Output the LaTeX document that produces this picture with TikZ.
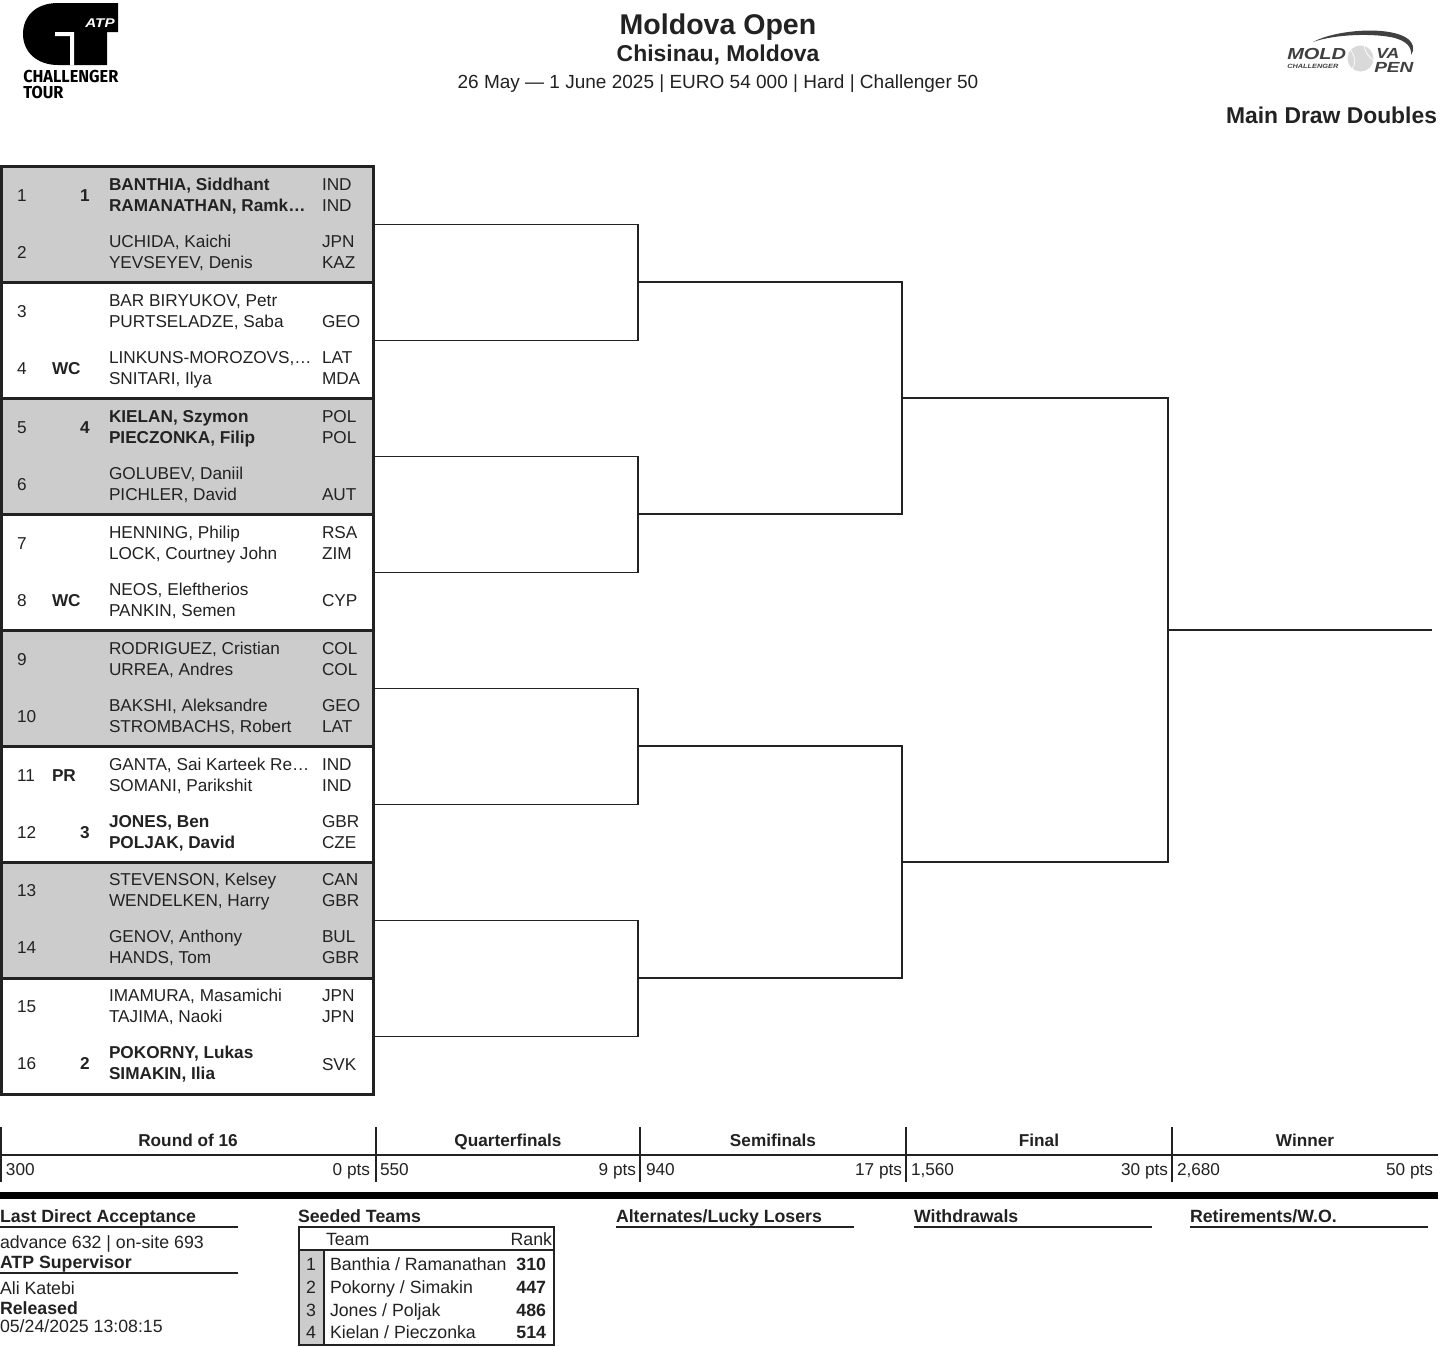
\documentclass[tikz,border=0pt]{standalone}
\usepackage{fontspec}
\setmainfont{Liberation Sans}
\newfontfamily\logofont{Fira Sans}
\definecolor{ink}{HTML}{222222}
\definecolor{band}{HTML}{CCCCCC}
\tikzset{
  txt/.style={inner sep=0pt,outer sep=0pt,anchor=base west,text=ink,font=\fontsize{12.9}{16}\selectfont},
  txtb/.style={txt,font=\fontsize{12.9}{16}\selectfont\bfseries},
  rtxt/.style={txt,anchor=base east},
  ctxtb/.style={txtb,anchor=base},
  ftxt/.style={txt,font=\fontsize{13.3}{16}\selectfont},
  ftxtb/.style={txt,font=\fontsize{13.3}{16}\selectfont\bfseries},
  frtxt/.style={ftxt,anchor=base east},
  frtxtb/.style={ftxtb,anchor=base east},
  line/.style={draw=ink,line width=1.1pt},
  rule/.style={draw=ink,line width=0.9pt},
  tick/.style={draw=ink,line width=1pt},
  blockw/.style={draw=ink,line width=1.7pt,inner sep=0pt,outer sep=0pt,minimum width=279pt,minimum height=87pt,fill=white},
  blockg/.style={blockw,fill=band},
}
\newcommand\entry[9]{%
  \node[txt] (idx#1) at (17,#2+11) {#1};
  \if\relax\detokenize{#4}\relax\else \node[txtb] (seed#1) at (#3,#2+11) {#4};\fi
  \node[txt,font=\fontsize{12.9}{16}\selectfont#9] (na#1) at (109,#2) {#5};
  \node[txt,font=\fontsize{12.9}{16}\selectfont#9] (nb#1) at (109,#2+21) {#7};
  \if\relax\detokenize{#6}\relax\else \node[txt] (ca#1) at (322,#2) {#6};\fi
  \if\relax\detokenize{#8}\relax\else \node[txt] (cb#1) at (322,#2+21) {#8};\fi
}
\begin{document}
\begin{tikzpicture}[x=0.75pt,y=-0.75pt]
\useasboundingbox (0,0) rectangle (1440,1347);
\fill[white] (0,0) rectangle (1440,1347);

% Challenger logo
\fill[black] (118,3) -- (58,3) .. controls (35,3) and (23,17) .. (23,34) .. controls (23,52) and (37,65) .. (58,65) -- (107,65) -- (107,32) -- (118,32) -- cycle;
\fill[white] (55,32) -- (74,32) -- (74,65) -- (70,65) -- (70,36) -- (55,36) -- cycle;
\node[inner sep=0pt,anchor=base,text=white,font=\fontsize{9.5}{10}\selectfont\bfseries\itshape] (atp) at (100,27) {\scalebox{1.2}[1]{ATP}};
\node[inner sep=0pt,anchor=base west,text=black,font=\logofont\fontsize{13}{13}\selectfont\bfseries] (cha) at (23,82) {\scalebox{0.94}[1]{CHALLENGER}};
\node[inner sep=0pt,anchor=base west,text=black,font=\logofont\fontsize{13}{13}\selectfont\bfseries] (tou) at (23,98) {\scalebox{0.94}[1]{TOUR}};

% Moldova logo
\fill[black!75] (1313,42) .. controls (1335,30) and (1385,26) .. (1405,37) .. controls (1414,42) and (1415,50) .. (1411,55) .. controls (1412,46) and (1405,41) .. (1395,38) .. controls (1375,33) and (1335,34) .. (1313,42) -- cycle;
\fill[black!15] (1360.5,58.5) circle[radius=13];
\draw[white,line width=0.5pt] (1350,49) .. controls (1356,58) and (1356,64) .. (1352,69);
\draw[white,line width=0.5pt] (1364,46) .. controls (1366,54) and (1370,58) .. (1373,60);
\node[inner sep=0pt,anchor=base west,text=black!75,font=\fontsize{12}{12}\selectfont\bfseries\itshape] (lm) at (1287,59) {\scalebox{1.25}[1]{MOLD}};
\node[inner sep=0pt,anchor=base west,text=black!75,font=\fontsize{4.6}{5}\selectfont\bfseries\itshape] (lc) at (1287,68) {\scalebox{1.2}[1]{CHALLENGER}};
\node[inner sep=0pt,anchor=base west,text=black!75,font=\fontsize{11}{11}\selectfont\bfseries\itshape] (lv) at (1376,58) {\scalebox{1.2}[1]{VA}};
\node[inner sep=0pt,anchor=base west,text=black!75,font=\fontsize{11}{11}\selectfont\bfseries\itshape] (lp) at (1374,72.5) {\scalebox{1.3}[1]{PEN}};

% Titles
\node[txtb,anchor=base,font=\fontsize{21.4}{24}\selectfont\bfseries] (t1) at (718,34) {Moldova Open};
\node[txtb,anchor=base,font=\fontsize{17.2}{20}\selectfont\bfseries] (t2) at (718,61) {Chisinau, Moldova};
\node[txt,anchor=base,font=\fontsize{14.25}{18}\selectfont] (t3) at (718,88) {26 May — 1 June 2025 | EURO 54 000 | Hard | Challenger 50};
\node[txtb,anchor=base east,font=\fontsize{17.15}{20}\selectfont\bfseries] (t4) at (1437,123.5) {Main Draw Doubles};

% Draw blocks
\node[blockg] (b1) at (187.5,224.5) {};
\node[blockw] (b2) at (187.5,340.5) {};
\node[blockg] (b3) at (187.5,456.5) {};
\node[blockw] (b4) at (187.5,572.5) {};
\node[blockg] (b5) at (187.5,688.5) {};
\node[blockw] (b6) at (187.5,804.5) {};
\node[blockg] (b7) at (187.5,920.5) {};
\node[blockw] (b8) at (187.5,1036.5) {};

\entry{1}{190}{80}{1}{BANTHIA, Siddhant}{IND}{RAMANATHAN, Ramk…}{IND}{\bfseries}
\entry{2}{247}{}{}{UCHIDA, Kaichi}{JPN}{YEVSEYEV, Denis}{KAZ}{}
\entry{3}{306}{}{}{BAR BIRYUKOV, Petr}{}{PURTSELADZE, Saba}{GEO}{}
\entry{4}{363}{52}{WC}{LINKUNS-MOROZOVS,…}{LAT}{SNITARI, Ilya}{MDA}{}
\entry{5}{422}{80}{4}{KIELAN, Szymon}{POL}{PIECZONKA, Filip}{POL}{\bfseries}
\entry{6}{479}{}{}{GOLUBEV, Daniil}{}{PICHLER, David}{AUT}{}
\entry{7}{538}{}{}{HENNING, Philip}{RSA}{LOCK, Courtney John}{ZIM}{}
\entry{8}{595}{52}{WC}{NEOS, Eleftherios}{}{PANKIN, Semen}{}{}
\node[txt] (cm8) at (322,606) {CYP};
\entry{9}{654}{}{}{RODRIGUEZ, Cristian}{COL}{URREA, Andres}{COL}{}
\entry{10}{711}{}{}{BAKSHI, Aleksandre}{GEO}{STROMBACHS, Robert}{LAT}{}
\entry{11}{770}{52}{PR}{GANTA, Sai Karteek Re…}{IND}{SOMANI, Parikshit}{IND}{}
\entry{12}{827}{80}{3}{JONES, Ben}{GBR}{POLJAK, David}{CZE}{\bfseries}
\entry{13}{885}{}{}{STEVENSON, Kelsey}{CAN}{WENDELKEN, Harry}{GBR}{}
\entry{14}{942}{}{}{GENOV, Anthony}{BUL}{HANDS, Tom}{GBR}{}
\entry{15}{1001}{}{}{IMAMURA, Masamichi}{JPN}{TAJIMA, Naoki}{JPN}{}
\entry{16}{1058}{80}{2}{POKORNY, Lukas}{}{SIMAKIN, Ilia}{}{\bfseries}
\node[txt] (cm16) at (322,1070) {SVK};

% Bracket
\coordinate (q1) at (638,282);
\coordinate (q2) at (638,514);
\coordinate (q3) at (638,746);
\coordinate (q4) at (638,978);
\coordinate (s1) at (902,398);
\coordinate (s2) at (902,862);
\coordinate (f1) at (1168,630);
\coordinate (win) at (1432,630);
\draw[line] (b1.east) -| (q1);
\draw[line] (b2.east) -| (q1);
\draw[line] (b3.east) -| (q2);
\draw[line] (b4.east) -| (q2);
\draw[line] (b5.east) -| (q3);
\draw[line] (b6.east) -| (q3);
\draw[line] (b7.east) -| (q4);
\draw[line] (b8.east) -| (q4);
\draw[line] (q1) -| (s1);
\draw[line] (q2) -| (s1);
\draw[line] (q3) -| (s2);
\draw[line] (q4) -| (s2);
\draw[line] (s1) -| (f1);
\draw[line] (s2) -| (f1);
\draw[line] (f1) -- (win);

% Points table
\draw[tick] (0,1155) -- (1438,1155);
\draw[tick] (1,1127) -- (1,1182);
\draw[tick] (376,1127) -- (376,1182);
\draw[tick] (640,1127) -- (640,1182);
\draw[tick] (906,1127) -- (906,1182);
\draw[tick] (1172,1127) -- (1172,1182);
\node[ctxtb] (r1) at (188,1146) {Round of 16};
\node[ctxtb] (r2) at (508,1146) {Quarterfinals};
\node[ctxtb] (r3) at (773,1146) {Semifinals};
\node[ctxtb] (r4) at (1039,1146) {Final};
\node[ctxtb] (r5) at (1305,1146) {Winner};
\node[txt] (p1) at (6,1175) {300};
\node[rtxt] (o1) at (370,1175) {0 pts};
\node[txt] (p2) at (380,1175) {550};
\node[rtxt] (o2) at (636,1175) {9 pts};
\node[txt] (p3) at (646,1175) {940};
\node[rtxt] (o3) at (902,1175) {17 pts};
\node[txt] (p4) at (911,1175) {1,560};
\node[rtxt] (o4) at (1168,1175) {30 pts};
\node[txt] (p5) at (1177,1175) {2,680};
\node[rtxt] (o5) at (1433,1175) {50 pts};
\fill[black] (0,1192) rectangle (1438,1199);

% Footer headings
\node[ftxtb] (h1) at (0,1222) {Last Direct Acceptance};
\node[ftxtb] (h2) at (298,1222) {Seeded Teams};
\node[ftxtb] (h3) at (616,1222) {Alternates/Lucky Losers};
\node[ftxtb] (h4) at (914,1222) {Withdrawals};
\node[ftxtb] (h5) at (1190,1222) {Retirements/W.O.};
\draw[rule] (0,1227) -- (238,1227);
\draw[rule] (616,1227) -- (854,1227);
\draw[rule] (914,1227) -- (1152,1227);
\draw[rule] (1190,1227) -- (1428,1227);
\node[ftxt] (f1t) at (0,1248) {advance 632 | on-site 693};
\node[ftxtb] (f2t) at (0,1268) {ATP Supervisor};
\draw[rule] (0,1273) -- (238,1273);
\node[ftxt] (f3t) at (0,1294) {Ali Katebi};
\node[ftxtb] (f4t) at (0,1314) {Released};
\node[ftxt] (f5t) at (0,1332) {05/24/2025 13:08:15};

% Seeds table
\fill[band] (300,1251) rectangle (324,1344);
\draw[line] (299,1227) rectangle (554,1345);
\draw[line] (299,1250) -- (554,1250);
\draw[line] (324,1250) -- (324,1345);
\node[ftxt] (st) at (326,1245) {Team};
\node[frtxt] (sr) at (552,1245) {Rank};
\node[ftxt,anchor=base] (s1n) at (311,1270) {1};
\node[ftxt,anchor=base] (s2n) at (311,1293) {2};
\node[ftxt,anchor=base] (s3n) at (311,1316) {3};
\node[ftxt,anchor=base] (s4n) at (311,1338) {4};
\node[ftxt] (s1t) at (330,1270) {Banthia / Ramanathan};
\node[ftxt] (s2t) at (330,1293) {Pokorny / Simakin};
\node[ftxt] (s3t) at (330,1316) {Jones / Poljak};
\node[ftxt] (s4t) at (330,1338) {Kielan / Pieczonka};
\node[frtxtb] (s1r) at (546,1270) {310};
\node[frtxtb] (s2r) at (546,1293) {447};
\node[frtxtb] (s3r) at (546,1316) {486};
\node[frtxtb] (s4r) at (546,1338) {514};
\end{tikzpicture}
\end{document}
